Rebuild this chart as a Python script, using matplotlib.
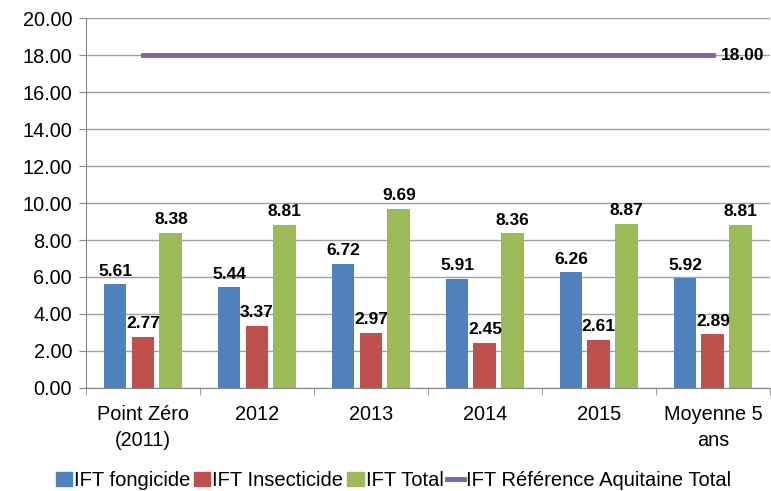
import numpy as np
import matplotlib.pyplot as plt
from matplotlib.patches import Patch
from matplotlib.lines import Line2D

categories = ["Point Zéro\n(2011)", "2012", "2013", "2014", "2015", "Moyenne 5\nans"]
fongicide = [5.61, 5.44, 6.72, 5.91, 6.26, 5.92]
insecticide = [2.77, 3.37, 2.97, 2.45, 2.61, 2.89]
total = [8.38, 8.81, 9.69, 8.36, 8.87, 8.81]
reference = [18.0, 18.0, 18.0, 18.0, 18.0, 18.0]

plt.rcParams['font.family'] = ['Liberation Sans', 'DejaVu Sans']

fig = plt.figure(figsize=(7.71, 4.91), dpi=100)
ax = fig.add_axes([0.1115, 0.21, 0.887, 0.753])

x = np.arange(len(categories))
w = 0.2
step = 0.245
series = [(fongicide, "#4F81BD", "IFT fongicide"),
          (insecticide, "#C0504D", "IFT Insecticide"),
          (total, "#9BBB59", "IFT Total")]
for i, (vals, col, lab) in enumerate(series):
    pos = x + (i - 1) * step
    ax.bar(pos, vals, w, color=col, zorder=3)
    for p, v in zip(pos, vals):
        ax.text(p, v + 0.3, f"{v:.2f}", ha="center", va="bottom",
                fontsize=12.5, fontweight="bold", zorder=4)

ax.plot(x, reference, color="#8064A2", lw=3.5, zorder=4)
ax.text(x[-1] + 0.07, reference[-1], f"{reference[-1]:.2f}", ha="left", va="center",
        fontsize=12.5, fontweight="bold", zorder=4)

ax.set_xlim(-0.5, len(categories) - 0.5)
ax.set_ylim(0, 20)
ax.set_yticks(np.arange(0, 21, 2))
ax.set_yticklabels([f"{v:.2f}" for v in np.arange(0, 21, 2)], fontsize=14.3)
ax.set_xticks(x)
ax.set_xticklabels(categories, fontsize=14.3, linespacing=1.5)
ax.set_xticks(np.arange(-0.5, len(categories)), minor=True)
ax.tick_params(axis="x", which="major", length=0, pad=12)
ax.tick_params(axis="x", which="minor", length=5, color="#888888")
ax.tick_params(axis="y", length=5, color="#888888", pad=5)
ax.grid(axis="y", color="#A0A0A0", lw=1, zorder=0)
for s in ["top", "right"]:
    ax.spines[s].set_visible(False)
for s in ["left", "bottom"]:
    ax.spines[s].set_color("#888888")

handles = [Patch(color=c) for _, c, _ in series] + [Line2D([], [], color="#8064A2", lw=3.5)]
labels = [lab for _, _, lab in series] + ["IFT Référence Aquitaine Total"]
fig.legend(handles, labels, loc="lower center", bbox_to_anchor=(0.51, -0.035), ncol=4,
           frameon=False, fontsize=14.5, handlelength=0.8, handletextpad=0.1,
           columnspacing=0.2)

fig.savefig("out.png", dpi=100)
